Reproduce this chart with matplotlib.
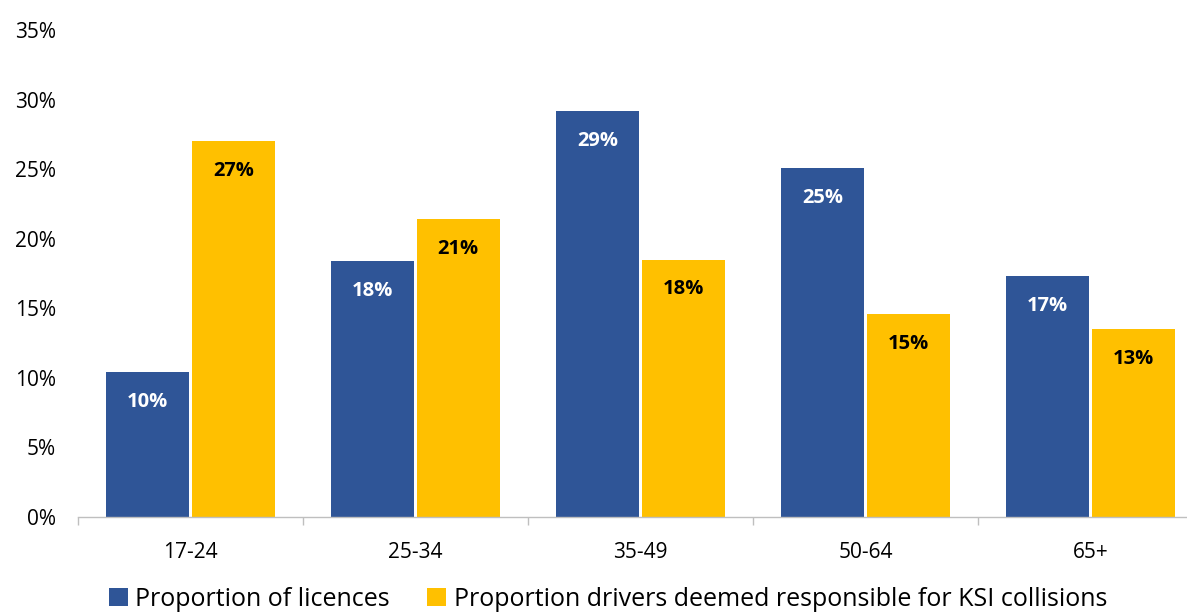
import matplotlib
matplotlib.use("Agg")
import matplotlib.pyplot as plt
import numpy as np

categories = ["17-24", "25-34", "35-49", "50-64", "65+"]
licences = [10.4, 18.4, 29.2, 25.1, 17.3]
ksi = [27.0, 21.4, 18.5, 14.6, 13.5]
licence_labels = ["10%", "18%", "29%", "25%", "17%"]
ksi_labels = ["27%", "21%", "18%", "15%", "13%"]
series_names = ["Proportion of licences", "Proportion drivers deemed responsible for KSI collisions"]
yticks = [0, 5, 10, 15, 20, 25, 30, 35]

blue = "#2F5597"
orange = "#FFC000"

plt.rcParams['font.family'] = ['Open Sans', 'DejaVu Sans']

W, H = 1187, 614
fig = plt.figure(figsize=(W/100, H/100), dpi=100)
ax = fig.add_axes([78/W, 97/H, 1125/W, 487/H])

x = np.arange(len(categories))
w = 0.368
off = 0.19
b1 = ax.bar(x - off, licences, w, color=blue, label=series_names[0])
b2 = ax.bar(x + off, ksi, w, color=orange, label=series_names[1])

for xi, v, lab in zip(x - off, licences, licence_labels):
    ax.annotate(lab, (xi, v), xytext=(0, -21.5), textcoords="offset points",
                ha="center", va="center", color="white", fontsize=14.5, fontweight="bold")
for xi, v, lab in zip(x + off, ksi, ksi_labels):
    ax.annotate(lab, (xi, v), xytext=(0, -21.5), textcoords="offset points",
                ha="center", va="center", color="black", fontsize=14.5, fontweight="bold")

ax.set_xlim(-0.5, len(categories) - 0.5)
ax.set_ylim(0, 35)
ax.set_yticks(yticks)
ax.set_yticklabels([f"{t}%" for t in yticks], fontsize=15)
ax.tick_params(axis="y", length=0, pad=16)
ax.set_xticks(x)
ax.set_xticklabels(categories, fontsize=15)
ax.set_xticks(np.arange(len(categories)) - 0.5, minor=True)
ax.tick_params(axis="x", which="major", length=0, pad=18)
ax.tick_params(axis="x", which="minor", length=6, color="#BFBFBF", width=1)

for s in ["top", "right", "left"]:
    ax.spines[s].set_visible(False)
ax.spines["bottom"].set_color("#BFBFBF")
ax.spines["bottom"].set_linewidth(1)

handles = [b1, b2]
fig.legend(handles, series_names, loc="center", bbox_to_anchor=(608/W, 1 - 599/H),
           ncol=2, frameon=False, fontsize=18, handlelength=0.75, handleheight=0.75,
           handletextpad=0.3, columnspacing=1.5, borderpad=0)

fig.savefig("out.png", dpi=100)
